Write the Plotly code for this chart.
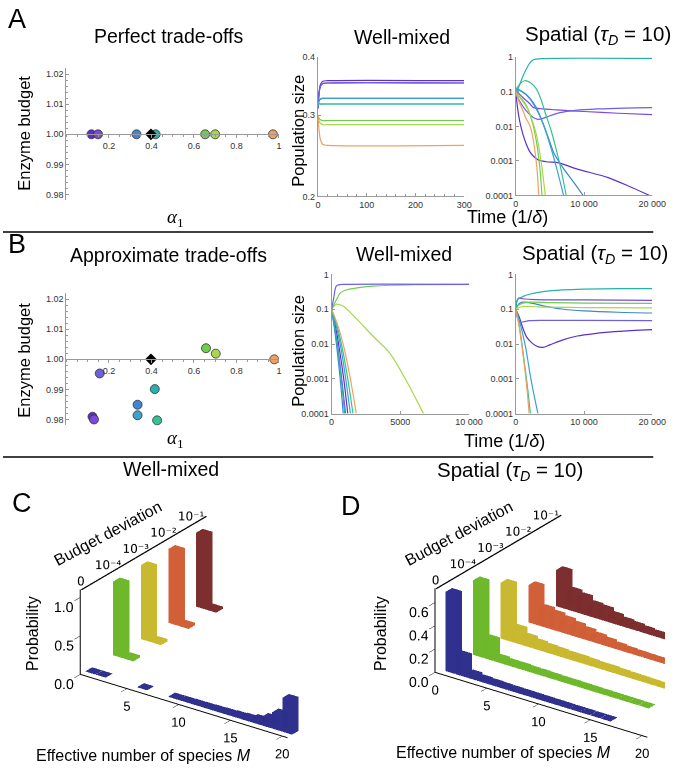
import math
import plotly.graph_objects as go

W, H = 678, 770
FONT = 'Liberation Sans'
SERIF = 'Liberation Serif'

# ---------------- colours ----------------
SPECIES_COLORS = ['#5b31c9', '#7a49e2', '#6c5fe0', '#3f84d6', '#3ba2cf',
                  '#27b1ab', '#35c190', '#6dcf4d', '#a5d84b', '#efa163']

# ---------------- Panel A : perfect trade-offs ----------------
A_ALPHA = [0.118, 0.149, 0.33, 0.42, 0.653, 0.70, 0.972]
A_BUDGET = [1.0, 1.0, 1.0, 1.0, 1.0, 1.0, 1.0]
A_POINT_SPECIES = [0, 1, 3, 5, 7, 8, 9]
SUPPLY_ALPHA = [0.398]
SUPPLY_BUDGET = [1.0]

# well-mixed dynamics (time, population size)
A_WM_T = [0, 2, 5, 10, 20, 300]
A_WM_S1 = [0.31, 0.333, 0.349, 0.355, 0.356, 0.356]
A_WM_S2 = [0.31, 0.331, 0.346, 0.351, 0.352, 0.352]
A_WM_S4 = [0.315, 0.321, 0.325, 0.326, 0.326, 0.326]
A_WM_S6 = [0.318, 0.318, 0.317, 0.317, 0.317, 0.317]
A_WM_S8 = [0.30, 0.296, 0.293, 0.292, 0.292, 0.292]
A_WM_S9 = [0.30, 0.292, 0.288, 0.286, 0.286, 0.286]
A_WM_S10 = [0.30, 0.281, 0.266, 0.259, 0.258, 0.258]

# spatial dynamics
A_SP_S6_T = [0, 500, 1000, 1540, 2100, 2600, 4000, 20000]
A_SP_S6_V = [0.085, 0.15, 0.27, 0.46, 0.7, 0.85, 0.92, 0.93]
A_SP_S7_T = [0, 600, 1300, 2200, 2980, 3700, 4420, 5140, 5860, 6600, 7390]
A_SP_S7_V = [0.11, 0.17, 0.21, 0.18, 0.124, 0.06, 0.021, 0.008, 0.0024, 0.0006, 0.0001]
A_SP_S5_T = [0, 1000, 2000, 3000, 4000, 5000, 6000, 7000]
A_SP_S5_V = [0.13, 0.1, 0.065, 0.032, 0.012, 0.003, 0.0006, 0.0001]
A_SP_S4_T = [0, 1000, 2000, 3000, 4000, 5000, 5570, 7000, 8500, 9860]
A_SP_S4_V = [0.12, 0.1, 0.068, 0.035, 0.012, 0.0035, 0.0017, 0.0006, 0.00024, 0.0001]
A_SP_S1_T = [0, 250, 576, 1056, 1500, 2020, 2700, 3460, 4500, 6340, 9000, 13540, 17000, 20000]
A_SP_S1_V = [0.1, 0.035, 0.014, 0.0058, 0.0032, 0.0019, 0.0013, 0.00104, 0.00095, 0.00088,
             0.00058, 0.00033, 0.00017, 0.000092]
A_SP_S2_T = [0, 1000, 2020, 2600, 4000, 6000, 10000, 15000, 20000]
A_SP_S2_V = [0.11, 0.07, 0.046, 0.035, 0.032, 0.03, 0.027, 0.024, 0.022]
A_SP_S3_T = [0, 800, 1540, 2400, 3220, 4000, 4900, 6500, 8740, 12000, 16000, 20000]
A_SP_S3_V = [0.085, 0.045, 0.028, 0.019, 0.016, 0.017, 0.02, 0.025, 0.029, 0.032, 0.034, 0.035]
A_SP_S8_T = [0, 800, 1540, 2300, 2980, 3500, 3840]
A_SP_S8_V = [0.1, 0.065, 0.041, 0.016, 0.004, 0.0007, 0.0001]
A_SP_S9_T = [0, 800, 1540, 2300, 3000, 3700, 4320]
A_SP_S9_V = [0.09, 0.06, 0.038, 0.017, 0.006, 0.001, 0.0001]
A_SP_S10_T = [0, 500, 1060, 1500, 2020, 2400, 2740, 3100, 3360]
A_SP_S10_V = [0.1, 0.05, 0.028, 0.017, 0.011, 0.006, 0.0024, 0.0006, 0.0001]

# ---------------- Panel B : approximate trade-offs ----------------
B_ALPHA = [0.123, 0.13, 0.157, 0.335, 0.335, 0.416, 0.427, 0.657, 0.703, 0.978]
B_BUDGET = [0.9809, 0.9800, 0.9953, 0.9849, 0.9814, 0.9901, 0.9797, 1.0037, 1.0019, 1.0]

B_WM_S1_T = [0, 300, 600, 900, 1180]
B_WM_S1_V = [0.1, 0.03, 0.006, 0.0009, 0.0001]
B_WM_S2_T = [0, 250, 500, 750, 1020]
B_WM_S2_V = [0.1, 0.028, 0.006, 0.0009, 0.0001]
B_WM_S3_T = [0, 150, 340, 600, 900, 10000]
B_WM_S3_V = [0.1, 0.2, 0.46, 0.51, 0.52, 0.52]
B_WM_S4_T = [0, 200, 420, 640, 850]
B_WM_S4_V = [0.1, 0.03, 0.006, 0.0009, 0.0001]
B_WM_S5_T = [0, 350, 700, 1030, 1370]
B_WM_S5_V = [0.1, 0.032, 0.007, 0.001, 0.0001]
B_WM_S6_T = [0, 230, 480, 720, 950]
B_WM_S6_V = [0.1, 0.03, 0.006, 0.0009, 0.0001]
B_WM_S7_T = [0, 400, 800, 1180, 1560]
B_WM_S7_V = [0.1, 0.033, 0.007, 0.001, 0.0001]
B_WM_S8_T = [0, 300, 660, 1200, 1845, 3000, 4210, 6000, 10000]
B_WM_S8_V = [0.1, 0.17, 0.3, 0.37, 0.41, 0.46, 0.49, 0.51, 0.52]
B_WM_S9_T = [0, 340, 600, 900, 1845, 3000, 4210, 5500, 6690]
B_WM_S9_V = [0.1, 0.14, 0.135, 0.12, 0.052, 0.017, 0.0057, 0.0008, 0.0001]
B_WM_S10_T = [0, 450, 900, 1350, 1800]
B_WM_S10_V = [0.1, 0.035, 0.008, 0.0011, 0.0001]

B_SP_S6_T = [0, 150, 400, 1000, 2000, 4000, 6800, 10000, 15000, 20000]
B_SP_S6_V = [0.1, 0.17, 0.2, 0.23, 0.27, 0.32, 0.36, 0.38, 0.39, 0.39]
B_SP_S2_T = [0, 150, 400, 1000, 3000, 10000, 20000]
B_SP_S2_V = [0.1, 0.17, 0.21, 0.2, 0.19, 0.185, 0.18]
B_SP_S8_T = [0, 400, 1000, 2000, 5000, 10000, 20000]
B_SP_S8_V = [0.1, 0.13, 0.15, 0.16, 0.155, 0.15, 0.147]
B_SP_S9_T = [0, 400, 1000, 2000, 5000, 10000, 20000]
B_SP_S9_V = [0.1, 0.11, 0.12, 0.12, 0.115, 0.112, 0.11]
B_SP_S4_T = [0, 400, 1000, 1500, 3000, 5000, 7000, 10000, 15000, 20000]
B_SP_S4_V = [0.1, 0.14, 0.16, 0.16, 0.14, 0.115, 0.1, 0.09, 0.082, 0.078]
B_SP_S3_T = [0, 200, 600, 1200, 2000, 4000, 10000, 20000]
B_SP_S3_V = [0.1, 0.06, 0.042, 0.044, 0.047, 0.048, 0.048, 0.047]
B_SP_S1_T = [0, 500, 1000, 1570, 2300, 3000, 3950, 5000, 6800, 9000, 11560, 15000, 20000]
B_SP_S1_V = [0.1, 0.06, 0.03, 0.016, 0.011, 0.0088, 0.008, 0.0095, 0.013, 0.017, 0.02, 0.023, 0.026]
B_SP_S5_T = [0, 500, 1000, 1500, 2050, 2600, 3240]
B_SP_S5_V = [0.1, 0.05, 0.02, 0.007, 0.0015, 0.0004, 0.0001]
B_SP_S10_T = [0, 400, 800, 1200, 1600, 1950]
B_SP_S10_V = [0.1, 0.04, 0.012, 0.003, 0.0006, 0.0001]
B_SP_S7_T = [0, 400, 800, 1200, 1700, 2140]
B_SP_S7_V = [0.1, 0.045, 0.014, 0.0035, 0.0006, 0.0001]

# ---------------- Panels C, D : histograms of effective species number ----------------
M_VALUES = [1, 2, 3, 4, 5, 6, 7, 8, 9, 10, 11, 12, 13, 14, 15, 16, 17, 18, 19, 20]
BUDGET_LABELS = ['0', '10⁻⁴', '10⁻³', '10⁻²', '10⁻¹']
BAR_COLORS = ['#3636a6', '#80d832', '#ecd936', '#f56e40', '#923434']

C_P0 = [0.004, 0.004, 0, 0, 0, 0.004, 0, 0, 0.005, 0.007, 0.009, 0.011, 0.014, 0.018,
        0.024, 0.032, 0.055, 0.11, 0.21, 0.44]
C_P1 = [0.96, 0.03, 0, 0, 0, 0, 0, 0, 0, 0, 0, 0, 0, 0, 0, 0, 0, 0, 0, 0]
C_P2 = [0.96, 0.03, 0, 0, 0, 0, 0, 0, 0, 0, 0, 0, 0, 0, 0, 0, 0, 0, 0, 0]
C_P3 = [0.96, 0.03, 0, 0, 0, 0, 0, 0, 0, 0, 0, 0, 0, 0, 0, 0, 0, 0, 0, 0]
C_P4 = [0.96, 0.03, 0, 0, 0, 0, 0, 0, 0, 0, 0, 0, 0, 0, 0, 0, 0, 0, 0, 0]

D_P0 = [0.68, 0.17, 0.035, 0.02, 0.015, 0.012, 0.01, 0.009, 0.008, 0.007, 0.006, 0.005,
        0.004, 0.004, 0.003, 0.003, 0, 0, 0, 0]
D_P1 = [0.64, 0.17, 0.03, 0.02, 0.02, 0.015, 0.015, 0.012, 0.01, 0.01, 0.008, 0.007,
        0.006, 0.005, 0.004, 0.004, 0.003, 0, 0, 0]
D_P2 = [0.48, 0.12, 0.07, 0.05, 0.04, 0.035, 0.03, 0.03, 0.025, 0.02, 0.02, 0.015,
        0.012, 0.01, 0.008, 0.006, 0.005, 0, 0, 0]
D_P3 = [0.32, 0.15, 0.13, 0.11, 0.09, 0.07, 0.05, 0.035, 0.02, 0.012, 0.008, 0.006,
        0.005, 0.004, 0.003, 0.002, 0, 0, 0, 0]
D_P4 = [0.31, 0.16, 0.14, 0.10, 0.09, 0.06, 0.04, 0.03, 0.02, 0.012, 0.008, 0.006,
        0.004, 0.003, 0, 0, 0, 0, 0, 0]


# ================= helpers (layout only) =================
def dom_x(x0, x1):
    return [x0 / W, x1 / W]


def dom_y(y0, y1):
    return [1 - y1 / H, 1 - y0 / H]


AXC = '#9a9a9a'
TICKFONT = dict(size=9, color='#333333', family=FONT)


def ax(**kw):
    d = dict(showline=True, linecolor=AXC, linewidth=1, ticks='inside', ticklen=3,
             tickcolor=AXC, tickfont=TICKFONT, showgrid=False, zeroline=False,
             fixedrange=True)
    d.update(kw)
    return d


fig = go.Figure()


def line(t, v, sp, xa, ya, width=1.2):
    fig.add_trace(go.Scatter(x=t, y=v, mode='lines', xaxis=xa, yaxis=ya,
                             line=dict(color=SPECIES_COLORS[sp], width=width, shape='spline',
                                       smoothing=0.8),
                             hoverinfo='skip', showlegend=False))


# ---- Panel A scatter
fig.add_trace(go.Scatter(x=A_ALPHA, y=A_BUDGET, mode='markers', xaxis='x', yaxis='y',
                         marker=dict(size=9, color=[SPECIES_COLORS[i] for i in A_POINT_SPECIES],
                                     line=dict(color='#333333', width=0.8)),
                         showlegend=False, hoverinfo='skip'))
fig.add_trace(go.Scatter(x=SUPPLY_ALPHA, y=SUPPLY_BUDGET, mode='markers', xaxis='x', yaxis='y',
                         marker=dict(size=9, symbol='diamond', color='black'),
                         showlegend=False, hoverinfo='skip'))

# ---- Panel A well-mixed
for vals, sp in [(A_WM_S1, 0), (A_WM_S2, 1), (A_WM_S2, 2), (A_WM_S4, 3), (A_WM_S4, 4),
                 (A_WM_S6, 5), (A_WM_S6, 6), (A_WM_S8, 7), (A_WM_S9, 8), (A_WM_S10, 9)]:
    line(A_WM_T, vals, sp, 'x2', 'y2')

# ---- Panel A spatial
for t, v, sp in [(A_SP_S1_T, A_SP_S1_V, 0), (A_SP_S2_T, A_SP_S2_V, 1), (A_SP_S3_T, A_SP_S3_V, 2),
                 (A_SP_S4_T, A_SP_S4_V, 3), (A_SP_S5_T, A_SP_S5_V, 4), (A_SP_S6_T, A_SP_S6_V, 5),
                 (A_SP_S7_T, A_SP_S7_V, 6), (A_SP_S8_T, A_SP_S8_V, 7), (A_SP_S9_T, A_SP_S9_V, 8),
                 (A_SP_S10_T, A_SP_S10_V, 9)]:
    line(t, v, sp, 'x3', 'y3')

# ---- Panel B scatter
fig.add_trace(go.Scatter(x=B_ALPHA, y=B_BUDGET, mode='markers', xaxis='x4', yaxis='y4',
                         marker=dict(size=9, color=SPECIES_COLORS,
                                     line=dict(color='#333333', width=0.8)),
                         showlegend=False, hoverinfo='skip'))
fig.add_trace(go.Scatter(x=SUPPLY_ALPHA, y=SUPPLY_BUDGET, mode='markers', xaxis='x4', yaxis='y4',
                         marker=dict(size=9, symbol='diamond', color='black'),
                         showlegend=False, hoverinfo='skip'))

# ---- Panel B well-mixed
for t, v, sp in [(B_WM_S1_T, B_WM_S1_V, 0), (B_WM_S2_T, B_WM_S2_V, 1), (B_WM_S4_T, B_WM_S4_V, 3),
                 (B_WM_S5_T, B_WM_S5_V, 4), (B_WM_S6_T, B_WM_S6_V, 5), (B_WM_S7_T, B_WM_S7_V, 6),
                 (B_WM_S10_T, B_WM_S10_V, 9), (B_WM_S9_T, B_WM_S9_V, 8),
                 (B_WM_S8_T, B_WM_S8_V, 7), (B_WM_S3_T, B_WM_S3_V, 2)]:
    line(t, v, sp, 'x5', 'y5')

# ---- Panel B spatial
for t, v, sp in [(B_SP_S1_T, B_SP_S1_V, 0), (B_SP_S2_T, B_SP_S2_V, 1), (B_SP_S3_T, B_SP_S3_V, 2),
                 (B_SP_S4_T, B_SP_S4_V, 3), (B_SP_S5_T, B_SP_S5_V, 4), (B_SP_S6_T, B_SP_S6_V, 5),
                 (B_SP_S7_T, B_SP_S7_V, 6), (B_SP_S8_T, B_SP_S8_V, 7), (B_SP_S9_T, B_SP_S9_V, 8),
                 (B_SP_S10_T, B_SP_S10_V, 9)]:
    line(t, v, sp, 'x6', 'y6')

# ---- 3D bars
FACES = [(0, 1, 3), (0, 3, 2), (4, 5, 7), (4, 7, 6), (0, 1, 5), (0, 5, 4),
         (2, 3, 7), (2, 7, 6), (0, 2, 6), (0, 6, 4), (1, 3, 7), (1, 7, 5)]


def bars(values, row, color, scene):
    X, Y, Z, I, J, K = [], [], [], [], [], []
    hw, hd = 0.47, 0.12
    for m, p in zip(M_VALUES, values):
        if p <= 0:
            continue
        n = len(X)
        for zz in (0, p):
            for yy in (row - hd, row + hd):
                for xx in (m - hw, m + hw):
                    X.append(xx); Y.append(yy); Z.append(zz)
        for a, b, c in FACES:
            I.append(n + a); J.append(n + b); K.append(n + c)
    fig.add_trace(go.Mesh3d(x=X, y=Y, z=Z, i=I, j=J, k=K, color=color, flatshading=True,
                            opacity=0.92, scene=scene, hoverinfo='skip', showscale=False,
                            lighting=dict(ambient=0.85, diffuse=0.35, specular=0.1,
                                          roughness=0.7, fresnel=0.1),
                            lightposition=dict(x=-5000, y=-8000, z=10000)))


for row, vals in enumerate([C_P0, C_P1, C_P2, C_P3, C_P4]):
    bars(vals, row, BAR_COLORS[row], 'scene')
for row, vals in enumerate([D_P0, D_P1, D_P2, D_P3, D_P4]):
    bars(vals, row, BAR_COLORS[row], 'scene2')

# axis frames of the 3D panels (layout)
C_XMIN, C_XMAX, C_ZTOP = 0.5, 20.5, 1.1
D_XMIN, D_XMAX, D_ZTOP = 0.0, 20.5, 0.72
YR = [-0.3, 4.3]
BUDGET_TICK_POS = [-0.3, 0.7, 1.7, 2.7, 3.7]
C_MTICKS = [5, 10, 15, 20]
D_MTICKS = [0, 5, 10, 15, 20]

for scene, xmin, ztop, drop, mt in [('scene', C_XMIN, C_ZTOP, 0.1, C_MTICKS),
                                    ('scene2', D_XMIN, D_ZTOP, 0.068, D_MTICKS)]:
    fig.add_trace(go.Scatter3d(x=[xmin + 0.05, xmin + 0.05], y=[YR[0] + 0.02, 4.25],
                               z=[ztop - 0.004, ztop - 0.004], mode='lines',
                               line=dict(color='black', width=2.5), scene=scene,
                               hoverinfo='skip', showlegend=False))
    fig.add_trace(go.Scatter3d(x=[xmin + 0.05] * 5, y=BUDGET_TICK_POS, z=[ztop - drop] * 5,
                               mode='text', text=BUDGET_LABELS, textposition='top center',
                               textfont=dict(size=12, color='black', family='DejaVu Sans'),
                               scene=scene, hoverinfo='skip', showlegend=False))
    fig.add_trace(go.Scatter3d(x=mt, y=[YR[0]] * len(mt), z=[0] * len(mt), mode='text',
                               text=[str(v) for v in mt], textposition='bottom center',
                               textfont=dict(size=13, color='black', family=FONT),
                               scene=scene, hoverinfo='skip', showlegend=False))

VIEW = (0.585, -0.811, 0.468)


def scene_cfg(dx, dy, xr, zr, xt, zt, ztxt, c, asp):
    a3 = dict(showline=True, linecolor='black', linewidth=2, ticks='outside', ticklen=4,
              tickcolor='black', showgrid=False, zeroline=False, showbackground=False,
              showspikes=False, title=dict(text=''), tickangle=0,
              tickfont=dict(size=13, family=FONT, color='black'))
    k = 3.0
    return dict(
        domain=dict(x=dx, y=dy),
        xaxis=dict(a3, range=xr, autorange=False, tickvals=xt, showticklabels=False),
        yaxis=dict(range=YR, autorange=False, visible=False, showspikes=False),
        zaxis=dict(a3, range=zr, autorange=False, tickvals=zt, ticktext=ztxt),
        aspectmode='manual',
        aspectratio=dict(x=asp[0], y=asp[1], z=asp[2]),
        camera=dict(projection=dict(type='orthographic'),
                    eye=dict(x=c[0] + VIEW[0] * k, y=c[1] + VIEW[1] * k, z=c[2] + VIEW[2] * k),
                    center=dict(x=c[0], y=c[1], z=c[2]), up=dict(x=0, y=0, z=1)),
        bgcolor='rgba(0,0,0,0)')


# ---- annotations
anns = []


def ann(text, x, y, size=17, angle=0, family=FONT, xanchor='center', yanchor='middle'):
    anns.append(dict(text=text, x=x / W, y=1 - y / H, xref='paper', yref='paper',
                     showarrow=False, textangle=angle, xanchor=xanchor, yanchor=yanchor,
                     font=dict(size=size, family=family, color='black')))


ann('A', 14, 14, 27)
ann('B', 14, 242, 27)
ann('C', 19, 505, 27)
ann('D', 357, 508, 27)

TS = 19.5
ann('Perfect trade-offs', 170, 31, TS)
ann('Well-mixed', 409, 32, TS)
ann('Spatial (<i>τ</i><sub><i>D</i></sub> = 10)', 610, 30, 20.5)
ann('Approximate trade-offs', 170, 253, TS)
ann('Well-mixed', 411, 252, TS)
ann('Spatial (<i>τ</i><sub><i>D</i></sub> = 10)', 607, 252, 20.5)
ann('Well-mixed', 172, 470, TS)
ann('Spatial (<i>τ</i><sub><i>D</i></sub> = 10)', 520, 472, 20.5)

ann('Enzyme budget', 22, 130, 16.5, angle=-90)
ann('Enzyme budget', 22, 360, 16.5, angle=-90)
ann('Population size', 303, 127, 16.5, angle=-90)
ann('Population size', 303, 350, 16.5, angle=-90)
ann('<i>α</i><sub>1</sub>', 177, 216, 19, family=SERIF)
ann('<i>α</i><sub>1</sub>', 177, 440, 19, family=SERIF)
ann('Time (1/<i>δ</i>)', 517, 215, 18)
ann('Time (1/<i>δ</i>)', 514, 442, 18)

ann('Effective number of species <i>M</i>', 144, 760, 16)
ann('Effective number of species <i>M</i>', 513, 757, 16)
ann('Probability', 30, 637, 16, angle=-90)
ann('Probability', 387, 637, 16, angle=-90)
ann('Budget deviation', 107, 535, 16, angle=-28)
ann('Budget deviation', 467, 535, 16, angle=-28)

# ---- axes layout
SC_YR = [0.978, 1.022]
A_SC_DOM = dom_y(64, 198)
B_SC_DOM = dom_y(292, 426)


def cross_pos(dom, yr, v):
    return dom[0] + (v - yr[0]) / (yr[1] - yr[0]) * (dom[1] - dom[0])


SC_YT = [0.98, 0.99, 1.0, 1.01, 1.02]
SC_YTT = ['0.98', '0.99', '1.00', '1.01', '1.02']
SC_XT = [0.2, 0.4, 0.6, 0.8, 1.0]
SC_XTT = ['0.2', '0.4', '0.6', '0.8', '1']
LOG_T = [0.0001, 0.001, 0.01, 0.1, 1]
LOG_TT = ['0.0001', '0.001', '0.01', '0.1', '1']
SP_XT = [0, 10000, 20000]
SP_XTT = ['0', '10 000', '20 000']

fig.update_layout(
    width=W, height=H, margin=dict(l=0, r=0, t=0, b=0),
    paper_bgcolor='white', plot_bgcolor='rgba(0,0,0,0)', showlegend=False,
    font=dict(family=FONT),
    xaxis=ax(domain=dom_x(65, 283), range=[0, 1.0], anchor='free',
             position=cross_pos(A_SC_DOM, SC_YR, 1.0), tickvals=SC_XT, ticktext=SC_XTT,
             ticks='outside', minor=dict(ticks='outside', ticklen=2, dtick=0.05, tickcolor=AXC)),
    yaxis=ax(domain=A_SC_DOM, range=SC_YR, anchor='x', tickvals=SC_YT, ticktext=SC_YTT,
             minor=dict(ticks='inside', ticklen=2, dtick=0.002, tickcolor=AXC)),
    xaxis2=ax(domain=dom_x(323, 473), range=[0, 300], anchor='y2', tickvals=[0, 100, 200, 300],
              minor=dict(ticks='inside', ticklen=2, dtick=20, tickcolor=AXC)),
    yaxis2=ax(domain=dom_y(53, 194), type='log', range=[math.log10(0.2), math.log10(0.4)],
              anchor='x2', tickvals=[0.2, 0.3, 0.4], ticktext=['0.2', '0.3', '0.4']),
    xaxis3=ax(domain=dom_x(526, 666), range=[0, 20000], anchor='y3', tickvals=SP_XT, ticktext=SP_XTT),
    yaxis3=ax(domain=dom_y(53, 193), type='log', range=[-4, 0], anchor='x3', tickvals=LOG_T,
              ticktext=LOG_TT),
    xaxis4=ax(domain=dom_x(65, 283), range=[0, 1.0], anchor='free',
              position=cross_pos(B_SC_DOM, SC_YR, 1.0), tickvals=SC_XT, ticktext=SC_XTT,
              ticks='outside', minor=dict(ticks='outside', ticklen=2, dtick=0.05, tickcolor=AXC)),
    yaxis4=ax(domain=B_SC_DOM, range=SC_YR, anchor='x4', tickvals=SC_YT, ticktext=SC_YTT,
              minor=dict(ticks='inside', ticklen=2, dtick=0.002, tickcolor=AXC)),
    xaxis5=ax(domain=dom_x(337, 478), range=[0, 10000], anchor='y5', tickvals=[0, 5000, 10000],
              ticktext=['0', '5000', '10 000']),
    yaxis5=ax(domain=dom_y(273, 414), type='log', range=[-4, 0], anchor='x5', tickvals=LOG_T,
              ticktext=LOG_TT),
    xaxis6=ax(domain=dom_x(526, 666), range=[0, 20000], anchor='y6', tickvals=SP_XT, ticktext=SP_XTT),
    yaxis6=ax(domain=dom_y(273, 414), type='log', range=[-4, 0], anchor='x6', tickvals=LOG_T,
              ticktext=LOG_TT),
    scene=scene_cfg([0.0, 0.5], [0.0, 0.37], [C_XMIN, C_XMAX], [0, C_ZTOP],
                    C_MTICKS, [0, 0.5, 1.0], ['0.0', '0.5', '1.0'],
                    (-0.4585, -0.3239, 0.0118), (1.8175, 1.546, 0.6655)),
    scene2=scene_cfg([0.5, 1.0], [0.0, 0.37], [D_XMIN, D_XMAX], [0, D_ZTOP],
                     D_MTICKS, [0, 0.2, 0.4, 0.6], ['0.0', '0.2', '0.4', '0.6'],
                     (-0.6090, -0.4357, 0.0064), (1.863, 1.546, 0.659)),
    annotations=anns,
    shapes=[dict(type='line', xref='paper', yref='paper', x0=0, x1=667 / W, y0=1 - 230 / H,
                 y1=1 - 230 / H, line=dict(color='black', width=1.5)),
            dict(type='line', xref='paper', yref='paper', x0=0, x1=667 / W, y0=1 - 458 / H,
                 y1=1 - 458 / H, line=dict(color='black', width=1.5))],
)

fig.write_html('out.html', config={'displayModeBar': False},
               post_script="document.body.style.margin='0px';document.body.style.overflow='hidden';")
